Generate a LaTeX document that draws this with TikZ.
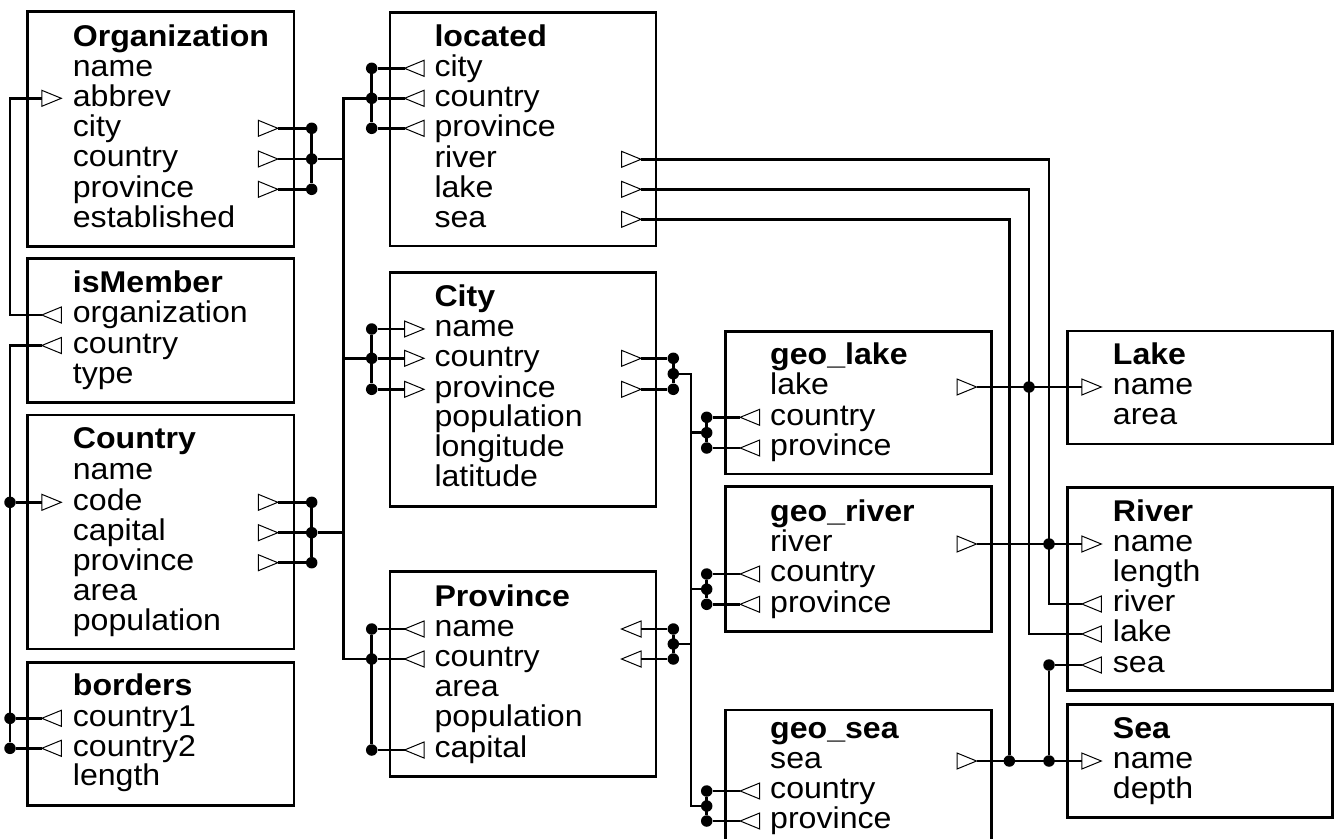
\documentclass[tikz,border=0pt]{standalone}
\usepackage{fontspec}
\setmainfont{Liberation Sans}[FakeStretch=1.07]
\tikzset{
  tbl/.style={draw, line width=2.8pt, rectangle, anchor=north west, inner sep=0pt, outer sep=0pt},
  lbl/.style={anchor=base west, inner sep=0pt, font=\fontsize{30}{30}\selectfont},
  ttl/.style={lbl, font=\fontsize{30}{30}\selectfont\bfseries},
  con/.style={line width=2.5pt},
  dotn/.style={circle, fill=black, draw=none, inner sep=0pt, minimum size=11.5pt},
  tri/.style={line width=1pt, line join=miter}
}
% entity box: name, left, top, width, height
\newcommand\ent[5]{\node[tbl, minimum width=#4pt, minimum height=#5pt] (#1) at (#2,#3) {};}
% field text: name, x, center y, text
\newcommand\fld[4]{\node[lbl] (#1) at ({#2},{#3+7.8}) {#4};}
\newcommand\tit[4]{\node[ttl] (#1) at ({#2},{#3+7.8}) {#4};}
% ports: name, leftmost x of triangle, center y
\newcommand\lR[3]{\draw[tri] ({#2},{#3-8}) -- ({#2+19.5},{#3}) -- ({#2},{#3+8}) -- cycle; \coordinate (#1) at ({#2},{#3});}
\newcommand\lL[3]{\draw[tri] ({#2+19.5},{#3-8}) -- ({#2},{#3}) -- ({#2+19.5},{#3+8}) -- cycle; \coordinate (#1) at ({#2},{#3});}
\newcommand\rR[3]{\draw[tri] ({#2},{#3-8}) -- ({#2+19.5},{#3}) -- ({#2},{#3+8}) -- cycle; \coordinate (#1) at ({#2+19.5},{#3});}
\newcommand\rL[3]{\draw[tri] ({#2+19.5},{#3-8}) -- ({#2},{#3}) -- ({#2+19.5},{#3+8}) -- cycle; \coordinate (#1) at ({#2+19.5},{#3});}
\newcommand\dt[3]{\node[dotn] (#1) at (#2,#3) {};}
\begin{document}
\begin{tikzpicture}[x=1pt,y=-1pt]
\useasboundingbox (0,0) rectangle (1341,838);
% ---------------- column 1
\ent{org}{27.3}{11.7}{266.7}{235}
\tit{orgT}{72.7}{38.3}{Organization}
\fld{orgName}{72.7}{68.3}{name}
\fld{orgAbbrev}{72.7}{98.3}{abbrev}
\fld{orgCity}{72.7}{128.3}{city}
\fld{orgCountry}{72.7}{159}{country}
\fld{orgProvince}{72.7}{189.3}{province}
\fld{orgEst}{72.7}{219.3}{established}
\lR{pOrgAbbrev}{41.8}{98.3}
\rR{pOrgCity}{258.3}{128.3}
\rR{pOrgCountry}{258.3}{159}
\rR{pOrgProvince}{258.3}{189.3}

\ent{ism}{27.3}{258.3}{266.7}{144}
\tit{ismT}{72.7}{285}{isMember}
\fld{ismOrg}{72.7}{315}{organization}
\fld{ismCountry}{72.7}{345.5}{country}
\fld{ismType}{72.7}{375.5}{type}
\lL{pIsmOrg}{41.8}{315}
\lL{pIsmCountry}{41.8}{345.5}

\ent{cty}{27.3}{415}{266.7}{234}
\tit{ctyT}{72.7}{440.5}{Country}
\fld{ctyName}{72.7}{471.3}{name}
\fld{ctyCode}{72.7}{502.3}{code}
\fld{ctyCapital}{72.7}{532.7}{capital}
\fld{ctyProvince}{72.7}{562.7}{province}
\fld{ctyArea}{72.7}{593}{area}
\fld{ctyPop}{72.7}{623}{population}
\lR{pCtyCodeL}{41.8}{502.3}
\rR{pCtyCode}{258.3}{502.3}
\rR{pCtyCapital}{258.3}{532.7}
\rR{pCtyProvince}{258.3}{562.7}

\ent{brd}{27.3}{662.3}{266.7}{143.4}
\tit{brdT}{72.7}{688}{borders}
\fld{brdC1}{72.7}{718.3}{country1}
\fld{brdC2}{72.7}{748.3}{country2}
\fld{brdLen}{72.7}{778}{length}
\lL{pBrdC1}{41.8}{718.3}
\lL{pBrdC2}{41.8}{748.3}

% ---------------- column 2
\ent{loc}{390}{12.3}{266}{233.7}
\tit{locT}{434.3}{38.3}{located}
\fld{locCity}{434.3}{68.3}{city}
\fld{locCountry}{434.3}{98.3}{country}
\fld{locProvince}{434.3}{128.3}{province}
\fld{locRiver}{434.3}{159.3}{river}
\fld{locLake}{434.3}{189.3}{lake}
\fld{locSea}{434.3}{219.3}{sea}
\lL{pLocCity}{404.5}{68.3}
\lL{pLocCountry}{404.5}{98.3}
\lL{pLocProvince}{404.5}{128.3}
\rR{pLocRiver}{621.5}{159.3}
\rR{pLocLake}{621.5}{189.3}
\rR{pLocSea}{621.5}{219.3}

\ent{cit}{390}{272.3}{266}{234.4}
\tit{citT}{434.3}{298.5}{City}
\fld{citName}{434.3}{329}{name}
\fld{citCountry}{434.3}{358.3}{country}
\fld{citProvince}{434.3}{389.3}{province}
\fld{citPop}{434.3}{419}{population}
\fld{citLon}{434.3}{449}{longitude}
\fld{citLat}{434.3}{479}{latitude}
\lR{pCitName}{404.5}{329}
\lR{pCitCountryL}{404.5}{358.3}
\lR{pCitProvinceL}{404.5}{389.3}
\rR{pCitCountry}{621.5}{358.3}
\rR{pCitProvince}{621.5}{389.3}

\ent{prv}{390}{571.7}{266}{205}
\tit{prvT}{434.3}{599}{Province}
\fld{prvName}{434.3}{629}{name}
\fld{prvCountry}{434.3}{659}{country}
\fld{prvArea}{434.3}{689}{area}
\fld{prvPop}{434.3}{719}{population}
\fld{prvCapital}{434.3}{750}{capital}
\lL{pPrvNameL}{404.5}{629}
\lL{pPrvCountryL}{404.5}{659}
\lL{pPrvCapital}{404.5}{750}
\rL{pPrvName}{621.5}{629}
\rL{pPrvCountry}{621.5}{659}

% ---------------- column 3
\ent{gl}{725.7}{331.7}{266}{142.3}
\tit{glT}{770}{357}{geo\_lake}
\fld{glLake}{770}{387}{lake}
\fld{glCountry}{770}{417.3}{country}
\fld{glProvince}{770}{448}{province}
\rR{pGlLake}{957}{387}
\lL{pGlCountry}{740.2}{417.3}
\lL{pGlProvince}{740.2}{448}

\ent{gr}{725.7}{486.7}{266}{145}
\tit{grT}{770}{513.3}{geo\_river}
\fld{grRiver}{770}{544}{river}
\fld{grCountry}{770}{574}{country}
\fld{grProvince}{770}{604.3}{province}
\rR{pGrRiver}{957}{544}
\lL{pGrCountry}{740.2}{574}
\lL{pGrProvince}{740.2}{604.3}

\ent{gs}{725.7}{710}{266}{170}
\tit{gsT}{770}{731}{geo\_sea}
\fld{gsSea}{770}{761}{sea}
\fld{gsCountry}{770}{791}{country}
\fld{gsProvince}{770}{821}{province}
\rR{pGsSea}{957}{761}
\lL{pGsCountry}{740.2}{791}
\lL{pGsProvince}{740.2}{821}

% ---------------- column 4
\ent{lk}{1067.3}{331}{265.4}{113}
\tit{lkT}{1112.7}{356.7}{Lake}
\fld{lkName}{1112.7}{387}{name}
\fld{lkArea}{1112.7}{416.5}{area}
\lR{pLkName}{1081.8}{387}

\ent{rv}{1067.3}{487.7}{265.4}{203}
\tit{rvT}{1112.7}{514}{River}
\fld{rvName}{1112.7}{544}{name}
\fld{rvLength}{1112.7}{574}{length}
\fld{rvRiver}{1112.7}{604}{river}
\fld{rvLake}{1112.7}{634}{lake}
\fld{rvSea}{1112.7}{665}{sea}
\lR{pRvName}{1081.8}{544}
\lL{pRvRiver}{1081.8}{604}
\lL{pRvLake}{1081.8}{634}
\lL{pRvSea}{1081.8}{665}

\ent{se}{1067.3}{704.3}{265.4}{113.4}
\tit{seT}{1112.7}{731}{Sea}
\fld{seName}{1112.7}{761}{name}
\fld{seDepth}{1112.7}{791}{depth}
\lR{pSeName}{1081.8}{761}

% ---------------- bus x positions
\coordinate (lbx) at (10,0);
\coordinate (mbx) at (343.3,0);
\coordinate (rbx) at (691,0);
\coordinate (vRiver) at (1049,0);
\coordinate (vLake) at (1029,0);
\coordinate (vSea) at (1009.3,0);

% ---------------- connectors: left bus
\draw[con] (pOrgAbbrev) -- (pOrgAbbrev -| lbx) -- (pIsmOrg -| lbx) -- (pIsmOrg);
\dt{dCtyCode}{10}{502.3}
\dt{dBrd1}{10}{718.3}
\dt{dBrd2}{10}{748.3}
\draw[con] (pIsmCountry) -- (pIsmCountry -| lbx) -- (dBrd2);
\draw[con] (dCtyCode) -- (pCtyCodeL);
\draw[con] (dBrd1) -- (pBrdC1);
\draw[con] (dBrd2) -- (pBrdC2);

% organization right
\dt{dO1}{311.7}{128.3}
\dt{dO2}{311.7}{159}
\dt{dO3}{311.7}{189.3}
\draw[con] (pOrgCity) -- (dO1);
\draw[con] (pOrgCountry) -- (dO2);
\draw[con] (pOrgProvince) -- (dO3);
\draw[con] (dO1) -- (dO3);
% country right
\dt{dC1}{311.7}{502.3}
\dt{dC2}{311.7}{532.7}
\dt{dC3}{311.7}{562.7}
\draw[con] (pCtyCode) -- (dC1);
\draw[con] (pCtyCapital) -- (dC2);
\draw[con] (pCtyProvince) -- (dC3);
\draw[con] (dC1) -- (dC3);
% located left
\dt{dL1}{371.7}{68.3}
\dt{dL2}{371.7}{98.3}
\dt{dL3}{371.7}{128.3}
\draw[con] (dL1) -- (pLocCity);
\draw[con] (dL2) -- (pLocCountry);
\draw[con] (dL3) -- (pLocProvince);
\draw[con] (dL1) -- (dL3);
% city left
\dt{dCi1}{371.7}{329}
\dt{dCi2}{371.7}{358.3}
\dt{dCi3}{371.7}{389.3}
\draw[con] (dCi1) -- (pCitName);
\draw[con] (dCi2) -- (pCitCountryL);
\draw[con] (dCi3) -- (pCitProvinceL);
\draw[con] (dCi1) -- (dCi3);
% province left
\dt{dP1}{371.7}{629}
\dt{dP2}{371.7}{659}
\dt{dP3}{371.7}{750}
\draw[con] (dP1) -- (pPrvNameL);
\draw[con] (dP2) -- (pPrvCountryL);
\draw[con] (dP3) -- (pPrvCapital);
\draw[con] (dP1) -- (dP3);
% main bus
\draw[con] (dL2) -- (dL2 -| mbx) -- (dP2 -| mbx) -- (dP2);
\draw[con] (dO2) -- (dO2 -| mbx);
\draw[con] (dC2) -- (dC2 -| mbx);
\draw[con] (dCi2) -- (dCi2 -| mbx);

% city right
\dt{dCr1}{673.3}{358.3}
\dt{dCr2}{673.3}{389.3}
\dt{dCrM}{673.3}{373.8}
\draw[con] (pCitCountry) -- (dCr1);
\draw[con] (pCitProvince) -- (dCr2);
\draw[con] (dCr1) -- (dCr2);
% province right
\dt{dPr1}{673.3}{629}
\dt{dPr2}{673.3}{659}
\dt{dPrM}{673.3}{644}
\draw[con] (pPrvName) -- (dPr1);
\draw[con] (pPrvCountry) -- (dPr2);
\draw[con] (dPr1) -- (dPr2);
% geo left
\dt{dGl1}{706.7}{417.3}
\dt{dGlM}{706.7}{432.7}
\dt{dGl2}{706.7}{448}
\draw[con] (dGl1) -- (pGlCountry);
\draw[con] (dGl2) -- (pGlProvince);
\draw[con] (dGl1) -- (dGl2);
\dt{dGr1}{706.7}{574}
\dt{dGrM}{706.7}{589.2}
\dt{dGr2}{706.7}{604.3}
\draw[con] (dGr1) -- (pGrCountry);
\draw[con] (dGr2) -- (pGrProvince);
\draw[con] (dGr1) -- (dGr2);
\dt{dGs1}{706.7}{791}
\dt{dGsM}{706.7}{806}
\dt{dGs2}{706.7}{821}
\draw[con] (dGs1) -- (pGsCountry);
\draw[con] (dGs2) -- (pGsProvince);
\draw[con] (dGs1) -- (dGs2);
% right bus
\draw[con] (dCrM) -- (dCrM -| rbx) -- (dGsM -| rbx) -- (dGsM);
\draw[con] (dPrM) -- (dPrM -| rbx);
\draw[con] (dGlM -| rbx) -- (dGlM);
\draw[con] (dGrM -| rbx) -- (dGrM);

% long connectors to the right column
\draw[con] (pLocRiver) -- (pLocRiver -| vRiver) -- (pRvRiver -| vRiver) -- (pRvRiver);
\draw[con] (pLocLake) -- (pLocLake -| vLake) -- (pRvLake -| vLake) -- (pRvLake);
\dt{dSea1}{1009.3}{761}
\draw[con] (pLocSea) -- (pLocSea -| vSea) -- (dSea1);
\draw[con] (pGlLake) -- (pLkName);
\draw[con] (pGrRiver) -- (pRvName);
\draw[con] (pGsSea) -- (pSeName);
\dt{dLake}{1029}{387}
\dt{dRiver}{1049}{544}
\dt{dRsea}{1049}{665}
\dt{dSea2}{1049}{761}
\draw[con] (dRsea) -- (pRvSea);
\draw[con] (dRsea) -- (dSea2);
\end{tikzpicture}
\end{document}
